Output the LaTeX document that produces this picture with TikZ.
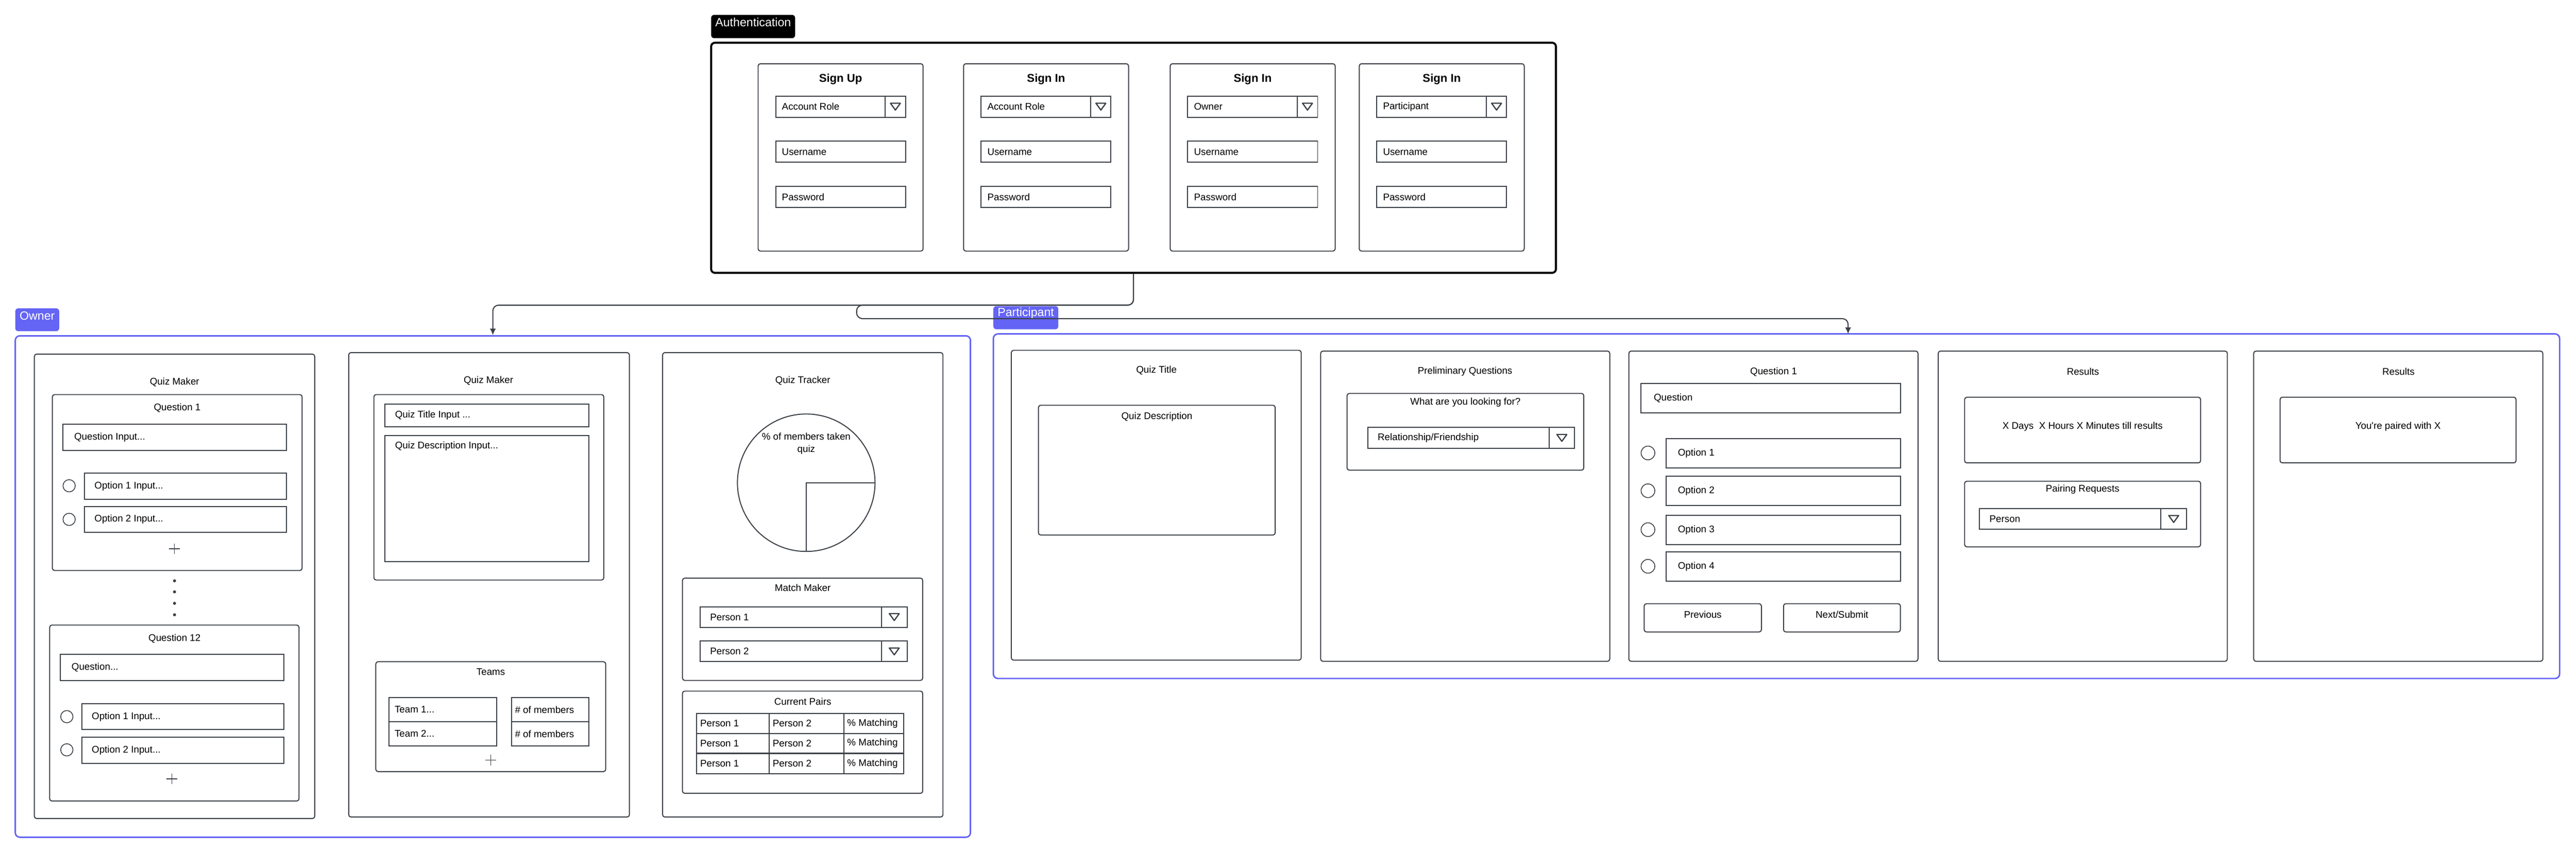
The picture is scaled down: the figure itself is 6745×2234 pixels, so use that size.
\documentclass[tikz,border=0pt]{standalone}
\usepackage{fontspec}
\setmainfont{Liberation Sans}
\usepackage{tikz}
\usetikzlibrary{fit,arrows.meta}

\definecolor{edge}{HTML}{3A3F46}
\definecolor{grp}{HTML}{6464F5}

% input box with its text: [inset]{name}{x1}{y1}{x2}{y2}{text}
\newcommand{\field}[7][0.27cm]{%
	\node[field, fit={(#3,#4) (#5,#6)}] (#2) {};
	\node[txt] (#2t) at ([xshift=#1]#2.west) {#7};}
% select box: [inset]{name}{x1}{y1}{x2}{y2}{arrow width}{text}
\newcommand{\dropdown}[8][0.27cm]{%
	\node[field, fit={(#3,#4) (#5,#6)}] (#2) {};
	\draw[field] (#5-#7,#4) -- (#5-#7,#6);
	\draw[draw=edge, line width=0.9pt, line join=round] (#5-#7/2-13,#4/2+#6/2-9) -- ++(26,0) -- ++(-13,18) -- cycle;
	\node[txt] (#2t) at ([xshift=#1]#2.west) {#8};}

\begin{document}
\begin{tikzpicture}[x=0.01cm, y=-0.01cm,
	font=\fontsize{7.2}{8.8}\selectfont,
	panel/.style={draw=edge, line width=0.75pt, rounded corners=0.06cm, inner sep=0pt},
	field/.style={draw=edge, line width=0.75pt, inner sep=0pt},
	group/.style={draw=grp, line width=1.1pt, rounded corners=0.12cm, inner sep=0pt},
	tag/.style={fill=grp, text=white, rounded corners=0.08cm, inner sep=0pt, font=\fontsize{8.9}{10}\selectfont},
	head/.style={inner sep=0pt},
	txt/.style={inner sep=0pt, anchor=west},
	radio/.style={circle, draw=edge, line width=0.6pt, minimum size=0.32cm, inner sep=0pt},
	plus/.style={draw=edge, line width=0.45pt},
	conn/.style={draw=edge, line width=0.8pt, rounded corners=0.15cm, -{Latex[length=0.17cm,width=0.16cm]}}]
	\path[use as bounding box, fill=white] (0,0) rectangle (6745,2234);

	% authentication
	\node[tag, fill=black, fit={(1862,39) (2082,100)}] (authtag) {Authentication};
	\node[panel, draw=black, line width=1.5pt, rounded corners=0.1cm, fit={(1862,112) (4074,715)}] (auth) {};
	\foreach \n/\x/\ttl/\role in {a/1985/Sign Up/Account Role, b/2523/Sign In/Account Role, c/3064/Sign In/Owner, d/3559/Sign In/Participant}{
		\node[panel, fit={(\x,167) (\x+432,658)}] (card\n) {};
		\node[head, font=\fontsize{8.5}{10}\selectfont\bfseries] (title\n) at (\x+216,208) {\ttl};
		\dropdown[0.17cm]{role\n}{\x+46}{252}{\x+386}{307}{53}{\role}
		\field[0.17cm]{user\n}{\x+46}{370}{\x+386}{425}{Username}
		\field[0.17cm]{pass\n}{\x+46}{488}{\x+386}{544}{Password}
	}

	% owner
	\node[tag, fit={(40,808) (155,868)}] (ownertag) {Owner};
	\node[group, fit={(40,880) (2541,2194)}] (owner) {};

	\node[panel, fit={(90,928) (824,2145)}] (makerA) {};
	\node[head] (makerAt) at (457,1001) {Quiz Maker};
	\node[panel, fit={(137,1034) (791,1495)}] (qfirst) {};
	\node[head] (qfirstt) at (464,1069) {Question 1};
	\field[0.3cm]{qfirstin}{165}{1111}{750}{1180}{Question Input...}
	\node[radio] (qfirstr1) at (181,1273) {};
	\field{qfirsto1}{221}{1240}{750}{1309}{Option 1 Input...}
	\node[radio] (qfirstr2) at (181,1361) {};
	\field{qfirsto2}{221}{1327}{750}{1395}{Option 2 Input...}
	\draw[plus] (457,1424) -- ++(0,28) (443,1438) -- ++(28,0);
	\foreach \y in {1522,1551,1581,1611} \fill[edge] (457,\y) circle (0.04cm);
	\node[panel, fit={(130,1638) (783,2099)}] (qlast) {};
	\node[head] (qlastt) at (457,1673) {Question 12};
	\field[0.3cm]{qlastin}{158}{1715}{743}{1783}{Question...}
	\node[radio] (qlastr1) at (175,1878) {};
	\field{qlasto1}{214}{1844}{743}{1912}{Option 1 Input...}
	\node[radio] (qlastr2) at (175,1965) {};
	\field{qlasto2}{214}{1932}{743}{2000}{Option 2 Input...}
	\draw[plus] (450,2027) -- ++(0,28) (436,2041) -- ++(28,0);

	\node[panel, fit={(913,924) (1648,2141)}] (makerB) {};
	\node[head] (makerBt) at (1279,997) {Quiz Maker};
	\node[panel, fit={(979,1034) (1581,1520)}] (quizinfo) {};
	\field{qtitle}{1008}{1059}{1542}{1118}{Quiz Title Input ...}
	\node[field, fit={(1008,1141) (1542,1472)}] (qdesc) {};
	\node[txt] (qdesct) at ([xshift=0.27cm,yshift=-0.29cm]qdesc.north west) {Quiz Description Input...};
	\node[panel, fit={(984,1734) (1586,2022)}] (teams) {};
	\node[head] (teamst) at (1285,1761) {Teams};
	\field[0.15cm]{teamA}{1019}{1828}{1300}{1891}{Team 1...}
	\field[0.15cm]{teamB}{1019}{1891}{1300}{1955}{Team 2...}
	\field[0.1cm]{sizeA}{1339}{1828}{1542}{1891}{\# of members}
	\field[0.1cm]{sizeB}{1339}{1891}{1542}{1955}{\# of members}
	\draw[plus] (1285,1978) -- ++(0,28) (1271,1992) -- ++(28,0);

	\node[panel, fit={(1735,924) (2469,2141)}] (tracker) {};
	\node[head] (trackert) at (2102,997) {Quiz Tracker};
	\node[circle, draw=edge, line width=0.75pt, minimum size=3.6cm, inner sep=0pt] (pie) at (2111,1265) {};
	\draw[field] (pie.east) -- (pie.center) -- (pie.south);
	\node[head, align=center, font=\fontsize{7.2}{9.1}\selectfont] (piet) at (2111,1162) {\% of members taken\\quiz};
	\node[panel, fit={(1787,1515) (2416,1783)}] (match) {};
	\node[head] (matcht) at (2102,1540) {Match Maker};
	\dropdown{pickA}{1833}{1590}{2375}{1644}{67}{Person 1}
	\dropdown{pickB}{1833}{1680}{2375}{1734}{67}{Person 2}
	\node[panel, fit={(1787,1811) (2416,2079)}] (pairs) {};
	\node[head] (pairst) at (2102,1838) {Current Pairs};
	\foreach \r/\y in {1/1870,2/1922,3/1975}{
		\field[0.1cm]{pairA\r}{1824}{\y}{2014}{\y+52}{Person 1}
		\field[0.1cm]{pairB\r}{2014}{\y}{2209}{\y+52}{Person 2}
		\field[0.1cm]{pairC\r}{2209}{\y}{2366}{\y+52}{\% Matching}
	}

	% participant
	\node[tag, fit={(2601,802) (2771,863)}] (parttag) {Participant};
	\node[group, fit={(2601,875) (6702,1778)}] (part) {};

	\node[panel, fit={(2648,918) (3407,1730)}] (intro) {};
	\node[head] (introt) at (3028,971) {Quiz Title};
	\node[panel, fit={(2719,1062) (3339,1402)}] (introdesc) {};
	\node[head] (introdesct) at (3029,1092) {Quiz Description};

	\node[panel, fit={(3458,920) (4215,1733)}] (prelim) {};
	\node[head] (prelimt) at (3836,974) {Preliminary Questions};
	\node[panel, fit={(3527,1031) (4147,1232)}] (seek) {};
	\node[head] (seekt) at (3837,1054) {What are you looking for?};
	\dropdown{seekdd}{3581}{1120}{4123}{1175}{67}{Relationship/Friendship}

	\node[panel, fit={(4265,920) (5022,1733)}] (quest) {};
	\node[head] (questt) at (4644,974) {Question 1};
	\field[0.34cm]{questin}{4297}{1005}{4977}{1082}{Question}
	\foreach \k/\y in {1/1149,2/1248,3/1350,4/1446}{
		\node[radio, minimum size=0.36cm] (questr\k) at (4315,\y+38) {};
		\field[0.32cm]{questo\k}{4362}{\y}{4977}{\y+77}{Option \k}
	}
	\node[panel, fit={(4305,1582) (4612,1656)}] (prev) {Previous};
	\node[panel, fit={(4670,1582) (4976,1656)}] (next) {Next/Submit};

	\node[panel, fit={(5075,920) (5832,1733)}] (wait) {};
	\node[head] (waitt) at (5454,974) {Results};
	\node[panel, fit={(5144,1041) (5762,1213)}] (countdown) {X Days\ \ X Hours X Minutes till results};
	\node[panel, fit={(5144,1261) (5762,1433)}] (requests) {};
	\node[head] (requestst) at (5453,1283) {Pairing Requests};
	\dropdown{reqdd}{5183}{1333}{5725}{1387}{67}{Person}

	\node[panel, fit={(5901,920) (6658,1733)}] (result) {};
	\node[head] (resultt) at (6280,974) {Results};
	\node[panel, fit={(5970,1041) (6588,1213)}] (paired) {You\textquotesingle re paired with X};

	% connectors
	\coordinate (partin) at (4839,875);
	\draw[conn] (auth.south) -- ++(0,82) -| (owner.north);
	\draw[conn] (auth.south) -- ++(0,82) -| (2243,835) -| (partin);
\end{tikzpicture}
\end{document}
